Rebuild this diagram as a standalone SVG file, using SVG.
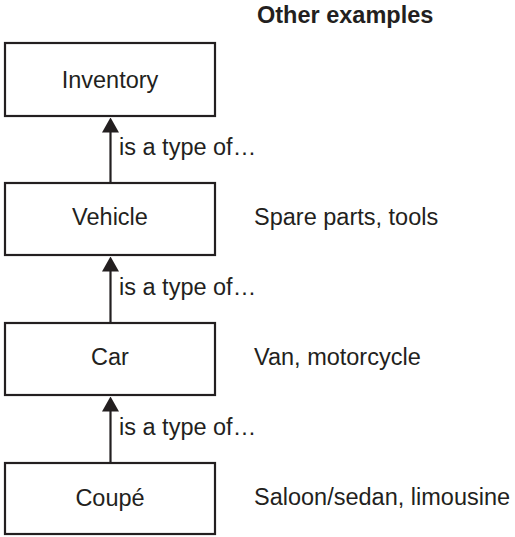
<svg xmlns="http://www.w3.org/2000/svg" width="515" height="537" viewBox="0 0 515 537">
<style>
.box{fill:#fff;stroke:#231f20;stroke-width:2.2}
.t{font-family:"Liberation Sans",Arial,sans-serif;font-size:23.5px;fill:#231f20}
.c{text-anchor:middle}
.b{font-weight:bold}
.conn{stroke:#231f20;stroke-width:2.2;fill:none;marker-end:url(#ah)}
</style>
<defs>
<marker id="ah" viewBox="0 0 15 17" refX="0.5" refY="8.5" markerWidth="15" markerHeight="17" markerUnits="userSpaceOnUse" orient="auto">
<path d="M0,0 L15,8.5 L0,17 Z" fill="#231f20"/>
</marker>
</defs>
<rect width="515" height="537" fill="#fff"/>
<g id="connectors">
<line class="conn" x1="110.5" y1="183" x2="110.5" y2="132"/>
<line class="conn" x1="110.5" y1="323" x2="110.5" y2="271"/>
<line class="conn" x1="110.5" y1="463" x2="110.5" y2="411"/>
<text class="t" x="119" y="155">is a type of…</text>
<text class="t" x="119" y="295">is a type of…</text>
<text class="t" x="119" y="435">is a type of…</text>
</g>
<g id="inventory">
<rect class="box" x="5" y="43" width="210" height="73"/>
<text class="t c" x="110" y="88">Inventory</text>
</g>
<g id="vehicle">
<rect class="box" x="5" y="183" width="210" height="72"/>
<text class="t c" x="110" y="225">Vehicle</text>
</g>
<g id="car">
<rect class="box" x="5" y="323" width="210" height="72"/>
<text class="t c" x="110" y="365">Car</text>
</g>
<g id="coupe">
<rect class="box" x="5" y="463" width="210" height="71"/>
<text class="t c" x="110" y="506">Coupé</text>
</g>
<g id="examples">
<text class="t b" x="257" y="23">Other examples</text>
<text class="t" x="254" y="225">Spare parts, tools</text>
<text class="t" x="254" y="365">Van, motorcycle</text>
<text class="t" x="254" y="505">Saloon/sedan, limousine</text>
</g>
</svg>
